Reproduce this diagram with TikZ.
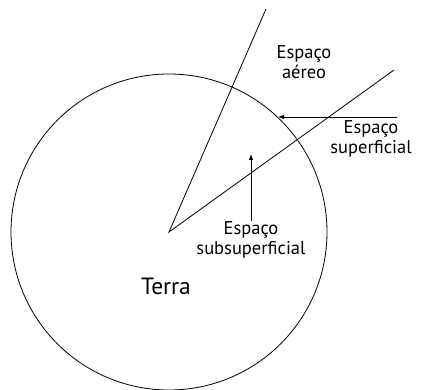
\documentclass[tikz,border=0pt]{standalone}
\usepackage{fontspec}
\setmainfont{PT Sans}
\usetikzlibrary{arrows.meta}
\begin{document}
\begin{tikzpicture}[x=1pt,y=-1pt, line width=0.8pt,
  lbl/.style={font=\fontsize{18.5}{20}\selectfont, align=center, inner sep=0pt},
  big/.style={font=\fontsize{23.5}{26}\selectfont, inner sep=0pt},
  arr/.style={-{Latex[length=6pt,width=4.5pt]}}]
\useasboundingbox (0,0) rectangle (423,390);
\coordinate (c) at (169,232);
\draw (c) circle[radius=158];
\coordinate (a1) at (266,9);
\coordinate (a2) at (394,70);
\draw (a1) -- (c) -- (a2);
\coordinate (s0) at (397,117);
\coordinate (s1) at (278,117);
\draw[arr] (s0) -- (s1);
\coordinate (u0) at (251,221);
\coordinate (u1) at (251,154);
\draw[arr] (u0) -- (u1);
\node[lbl] (aereo) at (304,62) {Espaço\\aéreo};
\node[lbl] (sup) at (371,139) {Espaço\\superficial};
\node[lbl] (sub) at (251,240) {Espaço\\subsuperficial};
\node[big] (terra) at (166,286) {Terra};
\end{tikzpicture}
\end{document}
